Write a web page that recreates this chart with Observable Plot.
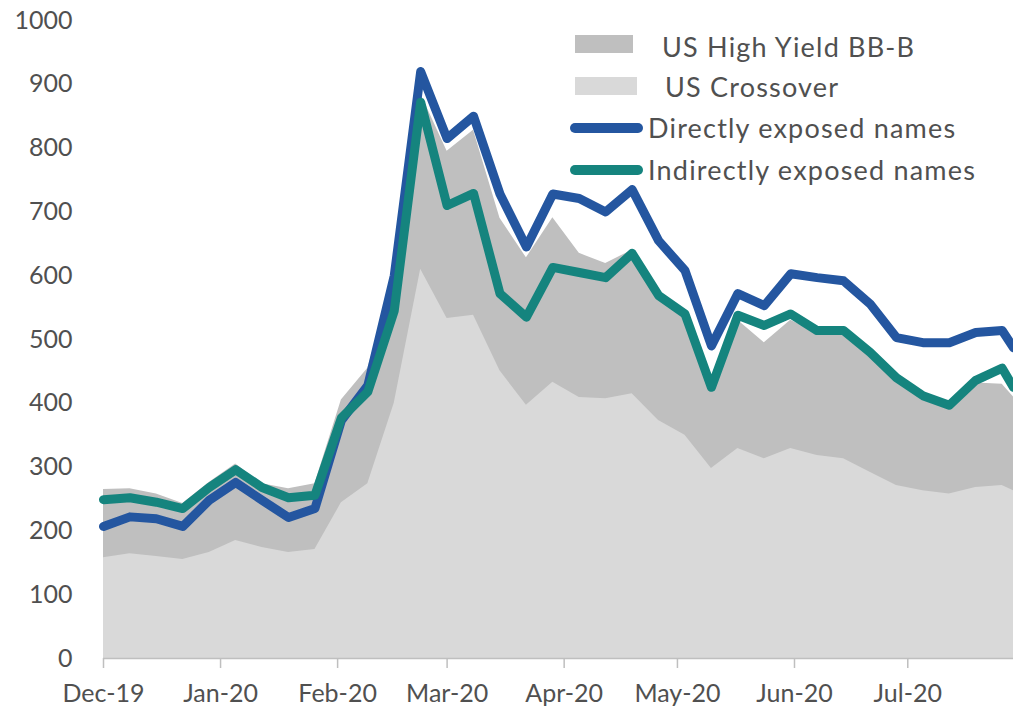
<!DOCTYPE html>
<html>
<head>
<meta charset="utf-8">
<script src="https://cdn.jsdelivr.net/npm/d3@7"></script>
<script src="https://cdn.jsdelivr.net/npm/@observablehq/plot@0.6"></script>
<style>
  html, body { margin: 0; padding: 0; background: #ffffff; }
  #wrap { position: relative; width: 1013px; height: 714px; font-family: Lato, "Open Sans", sans-serif; color: #505050; }
  .lg { position: absolute; font-size: 27px; letter-spacing: 1.2px; line-height: 1; white-space: nowrap; }
  .sw { position: absolute; }
</style>
</head>
<body>
<div id="wrap"></div>
<script>
// ---- data ----
const dates = [
  "2019-12-01","2019-12-08","2019-12-15","2019-12-22","2019-12-29",
  "2020-01-05","2020-01-12","2020-01-19","2020-01-26","2020-02-02",
  "2020-02-09","2020-02-16","2020-02-23","2020-03-01","2020-03-08",
  "2020-03-15","2020-03-22","2020-03-29","2020-04-05","2020-04-12",
  "2020-04-19","2020-04-26","2020-05-03","2020-05-10","2020-05-17",
  "2020-05-24","2020-05-31","2020-06-07","2020-06-14","2020-06-21",
  "2020-06-28","2020-07-05","2020-07-12","2020-07-19","2020-07-26",
  "2020-07-29"
];
const highYieldBBB = [265,266,258,243,276,305,274,266,274,405,455,590,885,795,828,690,628,691,635,619,640,572,545,425,530,495,530,510,510,478,440,412,397,432,430,410];
const usCrossover  = [158,164,160,155,166,185,174,166,171,244,274,400,610,533,538,451,397,433,409,407,415,373,350,298,329,313,329,318,313,292,271,263,258,268,271,263];
const directly     = [207,222,219,207,248,276,248,221,235,373,428,600,920,815,850,728,645,728,721,700,735,655,608,490,572,553,603,597,592,556,503,495,495,511,514,487];
const indirectly   = [249,252,245,235,268,296,268,252,256,377,418,545,872,710,729,572,535,613,605,597,635,569,540,425,538,522,540,514,514,480,440,412,397,436,455,425];
const xTicks = ["2019-12-01","2020-01-01","2020-02-01","2020-03-01","2020-04-01","2020-05-01","2020-06-01","2020-07-01"];
const yTicks = [0,100,200,300,400,500,600,700,800,900,1000];
const seriesNames = ["US High Yield BB-B","US Crossover","Directly exposed names","Indirectly exposed names"];
const seriesColors = ["#bfbfbf","#d9d9d9","#2456a0","#15847e"];

const rows = dates.map((d, i) => ({
  date: new Date(d + "T00:00:00Z"),
  hy: highYieldBBB[i], xo: usCrossover[i], dir: directly[i], ind: indirectly[i]
}));
const fmt = d3.utcFormat("%b-%y");

const chart = Plot.plot({
  width: 1013,
  height: 714,
  marginLeft: 103,
  marginRight: 0,
  marginTop: 20,
  marginBottom: 56,
  style: { fontFamily: "Lato, 'Open Sans', sans-serif", fontSize: "25px", background: "#ffffff", overflow: "visible" },
  x: { type: "utc", domain: [rows[0].date, rows[rows.length - 1].date] },
  y: { domain: [0, 1000] },
  marks: [
    Plot.areaY(rows, { x: "date", y: "hy", fill: seriesColors[0] }),
    Plot.areaY(rows, { x: "date", y: "xo", fill: seriesColors[1] }),
    Plot.ruleY([0], { stroke: "#bfbfbf", strokeWidth: 1.5 }),
    Plot.axisX(xTicks.map(d => new Date(d + "T00:00:00Z")), {
      tickSize: 10, tickPadding: 16, tickFormat: fmt, stroke: "#bfbfbf", fill: "#505050", strokeWidth: 1.5, label: null
    }),
    Plot.axisY(yTicks, { tickSize: 0, tickPadding: 31, tickFormat: d => String(d), fill: "#505050", label: null }),
    Plot.lineY(rows, { x: "date", y: "dir", stroke: seriesColors[2], strokeWidth: 9 }),
    Plot.lineY(rows, { x: "date", y: "ind", stroke: seriesColors[3], strokeWidth: 9 })
  ]
});

const wrap = document.getElementById("wrap");
wrap.appendChild(chart);

// ---- legend ----
const legendRows = [
  { kind: "rect", top: 35, left: 575, w: 58, h: 18, textLeft: 662, textMid: 47 },
  { kind: "rect", top: 77, left: 575, w: 62, h: 18, textLeft: 665, textMid: 87 },
  { kind: "line", top: 123, left: 570, w: 73, h: 10, textLeft: 648, textMid: 128 },
  { kind: "line", top: 165, left: 570, w: 73, h: 10, textLeft: 648, textMid: 170 }
];
legendRows.forEach((r, i) => {
  const sw = document.createElement("div");
  sw.className = "sw";
  sw.style.left = r.left + "px";
  sw.style.top = r.top + "px";
  sw.style.width = r.w + "px";
  sw.style.height = r.h + "px";
  sw.style.background = seriesColors[i];
  if (r.kind === "line") sw.style.borderRadius = (r.h / 2) + "px";
  wrap.appendChild(sw);
  const t = document.createElement("div");
  t.className = "lg";
  t.textContent = seriesNames[i];
  t.style.left = r.textLeft + "px";
  t.style.top = (r.textMid - 14) + "px";
  wrap.appendChild(t);
});
</script>
</body>
</html>
